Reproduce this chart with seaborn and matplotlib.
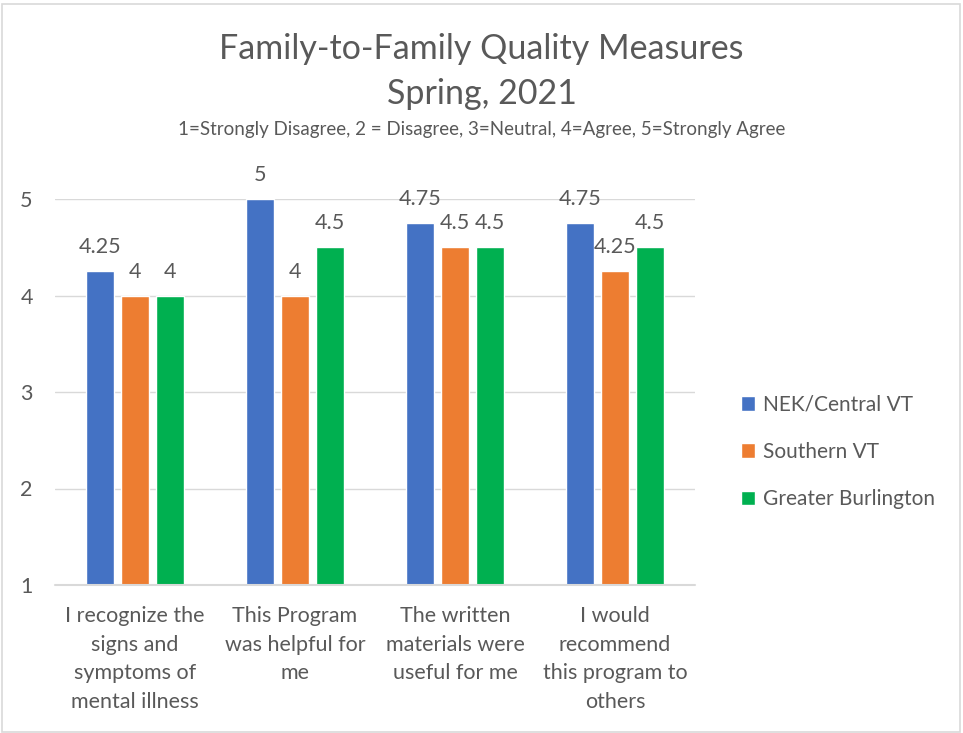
import matplotlib
matplotlib.use("Agg")
import matplotlib.pyplot as plt
import seaborn as sns
import pandas as pd
from matplotlib.patches import Rectangle

categories = ["I recognize the\nsigns and\nsymptoms of\nmental illness",
              "This Program\nwas helpful for\nme",
              "The written\nmaterials were\nuseful for me",
              "I would\nrecommend\nthis program to\nothers"]
series_names = ["NEK/Central VT", "Southern VT", "Greater Burlington"]
nek = [4.25, 5, 4.75, 4.75]
southern = [4, 4, 4.5, 4.25]
burlington = [4, 4.5, 4.5, 4.5]
label_text = [["4.25", "5", "4.75", "4.75"], ["4", "4", "4.5", "4.25"], ["4", "4.5", "4.5", "4.5"]]
yticks = [1, 2, 3, 4, 5]
colors = ["#4472C4", "#ED7D31", "#00B050"]

sns.set_theme(style="white")
plt.rcParams['font.family'] = ['Lato', 'DejaVu Sans']
txt = "#595959"

rows = []
for s, vals in zip(series_names, [nek, southern, burlington]):
    for c, v in zip(categories, vals):
        rows.append({"cat": c, "series": s, "val": v})
df = pd.DataFrame(rows)

fig = plt.figure(figsize=(9.63, 7.33), dpi=100)
ax = fig.add_axes([55/963, 1-585/733, 640/963, (585-199)/733])
sns.barplot(data=df, x="cat", y="val", hue="series", palette=colors,
            saturation=1, width=0.66, gap=0.2, ax=ax, legend=True)
ax.set_ylim(1, 5)
ax.set_xlim(-0.5, 3.5)
ax.set_yticks(yticks)
ax.set_xlabel("")
ax.set_ylabel("")
for y in yticks[1:]:
    ax.axhline(y, color="#D9D9D9", lw=1, zorder=0)
ax.axhline(1, color="#D9D9D9", lw=1.5, zorder=3, clip_on=False)
for sp in ax.spines.values():
    sp.set_visible(False)
ax.tick_params(axis="y", length=0, labelsize=15.5, labelcolor=txt, pad=16)
ax.tick_params(axis="x", length=0, labelsize=15.5, labelcolor=txt, pad=15)
ax.set_xticks(range(len(categories)))
ax.set_xticklabels(categories, linespacing=1.55)
for cont, labs in zip(ax.containers, label_text):
    ax.bar_label(cont, labels=labs, padding=10, fontsize=15.5, color=txt, clip_on=False)

h, l = ax.get_legend_handles_labels()
ax.legend(h, l, loc="center left", bbox_to_anchor=(722/963, 1-452/733),
          bbox_transform=fig.transFigure, frameon=False, fontsize=15,
          labelcolor=txt, handlelength=0.7, handleheight=0.7,
          handletextpad=0.35, labelspacing=1.3)

fig.text(0.5, 1-49/733, "Family-to-Family Quality Measures", ha="center", va="center",
         fontsize=24.5, color=txt)
fig.text(0.5, 1-94/733, "Spring, 2021", ha="center", va="center", fontsize=24.5, color=txt)
fig.text(0.5, 1-129/733, "1=Strongly Disagree, 2 = Disagree, 3=Neutral, 4=Agree, 5=Strongly Agree",
         ha="center", va="center", fontsize=13.5, color=txt)
fig.patches.append(Rectangle((2/963, 0.002), 958/963, 1-5/733, transform=fig.transFigure,
                             fill=False, edgecolor="#D9D9D9", lw=1.2))
fig.savefig("out.png", dpi=100)
